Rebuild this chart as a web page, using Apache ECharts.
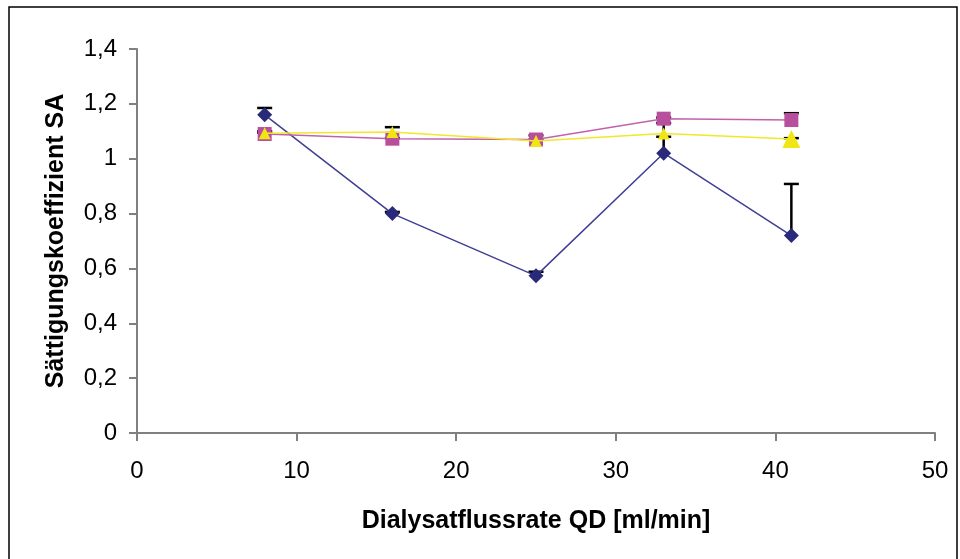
<!DOCTYPE html>
<html>
<head>
<meta charset="utf-8">
<script src="https://cdn.jsdelivr.net/npm/echarts@6/dist/echarts.min.js"></script>
<style>
  html, body { margin: 0; padding: 0; background: #fff; }
  #chart { width: 960px; height: 559px; }
</style>
</head>
<body>
<div id="chart"></div>
<script>
// Dialysatflussrate (x) und Sättigungskoeffizient (y)
var flowRates = [8, 16, 25, 33, 41];

var blueSA = [1.16, 0.80, 0.573, 1.02, 0.72];
var blueUpper = [1.185, 0.806, 0.588, 1.08, 0.908];

var magentaSA = [1.09, 1.073, 1.07, 1.146, 1.141];
var magentaUpper = [1.10, 1.075, 1.085, 1.15, 1.166];

var yellowSA = [1.093, 1.097, 1.065, 1.092, 1.072];
var yellowUpper = [1.095, 1.115, 1.07, 1.13, 1.075];

var chart = echarts.init(document.getElementById('chart'));

function pairs(xs, ys) {
  return xs.map(function (x, i) { return [x, ys[i]]; });
}
function errData(xs, ys, ups) {
  return xs.map(function (x, i) { return [x, ys[i], ups[i]]; });
}

// Fehlerbalken (nur nach oben, wie in Excel)
function renderErr(params, api) {
  var low = api.coord([api.value(0), api.value(1)]);
  var high = api.coord([api.value(0), api.value(2)]);
  var half = 7.5;
  var style = { stroke: '#000', lineWidth: 2.5 };
  return {
    type: 'group',
    children: [
      { type: 'line', shape: { x1: low[0], y1: low[1], x2: high[0], y2: high[1] }, style: style },
      { type: 'line', shape: { x1: high[0] - half, y1: high[1], x2: high[0] + half, y2: high[1] }, style: style }
    ]
  };
}

var option = {
  backgroundColor: '#fff',
  animation: false,
  textStyle: { fontFamily: '"Liberation Sans", Arial, sans-serif' },
  graphic: [{
    type: 'rect',
    shape: { x: 9, y: 7, width: 948, height: 560 },
    style: { fill: 'none', stroke: '#000', lineWidth: 1.5 },
    silent: true
  }],
  grid: { left: 137, right: 25, top: 49, bottom: 126 },
  xAxis: {
    type: 'value',
    min: 0, max: 50, interval: 10,
    name: 'Dialysatflussrate QD [ml/min]',
    nameLocation: 'middle',
    nameGap: 76,
    nameTextStyle: { color: '#000', fontSize: 25, fontWeight: 'bold' },
    splitLine: { show: false },
    axisLine: { lineStyle: { color: '#808080', width: 2 } },
    axisTick: { show: true, inside: false, length: 8, lineStyle: { color: '#808080', width: 2 } },
    axisLabel: { color: '#000', fontSize: 24, margin: 26 }
  },
  yAxis: {
    type: 'value',
    min: 0, max: 1.4, interval: 0.2,
    name: 'Sättigungskoeffizient SA',
    nameLocation: 'middle',
    nameGap: 68,
    nameRotate: 90,
    nameTextStyle: { color: '#000', fontSize: 25, fontWeight: 'bold' },
    splitLine: { show: false },
    axisLine: { show: true, lineStyle: { color: '#808080', width: 2 } },
    axisTick: { show: true, inside: false, length: 8, lineStyle: { color: '#808080', width: 2 } },
    axisLabel: {
      color: '#000', fontSize: 24, margin: 20,
      formatter: function (v) { return String(+v.toFixed(1)).replace('.', ','); }
    }
  },
  series: [
    {
      type: 'custom', renderItem: renderErr, z: 1,
      data: errData(flowRates, blueSA, blueUpper)
    },
    {
      type: 'custom', renderItem: renderErr, z: 1,
      data: errData(flowRates, magentaSA, magentaUpper)
    },
    {
      type: 'custom', renderItem: renderErr, z: 1,
      data: errData(flowRates, yellowSA, yellowUpper)
    },
    {
      type: 'line', z: 2,
      data: pairs(flowRates, blueSA),
      symbol: 'diamond', symbolSize: 15,
      lineStyle: { color: '#3f3f95', width: 1.5 },
      itemStyle: { color: '#2a2a7a' }
    },
    {
      type: 'line', z: 3,
      data: pairs(flowRates, magentaSA),
      symbol: 'rect', symbolSize: 14,
      lineStyle: { color: '#c262ad', width: 1.5 },
      itemStyle: { color: '#b84f9e' }
    },
    {
      type: 'line', z: 4,
      data: pairs(flowRates, yellowSA),
      symbol: 'triangle',
      symbolSize: function (val, params) { return params.dataIndex === 4 ? 18 : 12; },
      lineStyle: { color: '#f0e82a', width: 1.5 },
      itemStyle: { color: '#f0e614' }
    }
  ]
};

chart.setOption(option);
</script>
</body>
</html>
